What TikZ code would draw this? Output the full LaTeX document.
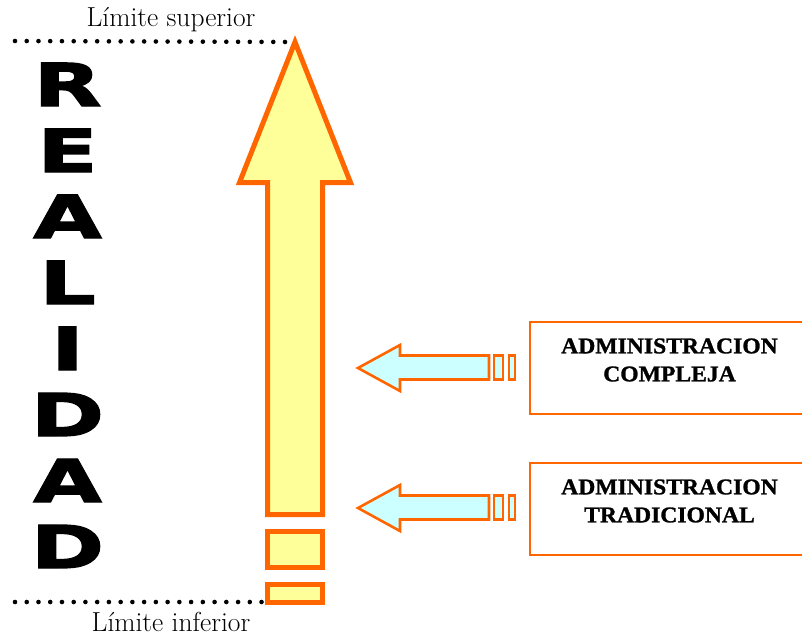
\documentclass[tikz,border=0pt]{standalone}
\usepackage{fontspec}
\newfontfamily\realfont{DejaVu Sans Bold}[FakeBold=2.5,FakeStretch=1.5]
\newfontfamily\boxfont{Liberation Serif}[FakeStretch=1.05,FakeBold=1.2]
\definecolor{arrowline}{HTML}{FF6600}
\definecolor{arrowfill}{HTML}{FFFF99}
\definecolor{sidefill}{HTML}{CCFFFF}
\begin{document}
\begin{tikzpicture}[x=1pt,y=-1pt,
  bigarrow/.style={draw=arrowline,fill=arrowfill,line width=5pt,miter limit=20},
  sidearrow/.style={draw=arrowline,fill=sidefill,line width=2.6pt,miter limit=20},
  stripe/.style={draw=arrowline,fill=sidefill,line width=2.4pt},
  limitline/.style={line width=4.6pt,line cap=round,dash pattern=on 0pt off 11.74pt},
  limittext/.style={font=\fontsize{27.5}{30}\selectfont,inner sep=0pt,anchor=base},
  letter/.style={font=\realfont\fontsize{59}{60}\selectfont,anchor=base,inner sep=0pt},
  conceptbox/.style={draw=arrowline,line width=2pt,minimum width=275pt,minimum height=92pt,inner sep=0pt},
  concepttext/.style={font=\boxfont\bfseries\fontsize{22.5}{28}\selectfont,align=center,inner sep=0pt}]
\useasboundingbox (0,0) rectangle (802,637);

% main rising arrow
\coordinate (tip) at (295,42);
\draw[bigarrow] (tip) -- (350.5,182.5) -- (322.5,182.5) -- (322.5,514.5)
  -- (267.5,514.5) -- (267.5,182.5) -- (239.5,182.5) -- cycle;
\draw[bigarrow] (267.5,531.5) rectangle (322.5,567.5);
\draw[bigarrow] (267.5,584.5) rectangle (322.5,602.5);
\coordinate (lowend) at (267,602);

% upper and lower limits
\coordinate (topstart) at (15,41);
\coordinate (botstart) at (15,602);
\draw[limitline] (topstart) -- (tip);
\draw[limitline] (botstart) -- (lowend);
\node[limittext] (sup) at (171,27) {Límite superior};
\node[limittext] (inf) at (171,631) {Límite inferior};

% vertical word
\foreach \ch [count=\i from 0] in {R,E,A,L,I,D,A,D}
  \node[letter] (letter\i) at (67.5,106+66*\i) {\ch};

% side arrows pointing to the main arrow
\foreach \dy/\nm in {0/upper,140/lower}{
  \begin{scope}[yshift=-\dy pt]
    \draw[sidearrow] (358,368) -- (400,345) -- (400,355.5) -- (489,355.5)
      -- (489,379.5) -- (400,379.5) -- (400,391) -- cycle;
    \draw[stripe] (494,355.5) rectangle (503,379.5);
    \draw[stripe] (509,355.5) rectangle (515,379.5);
  \end{scope}
}

% concept boxes
\node[conceptbox] (compleja) at (667.5,368) {};
\node[concepttext] (complejatxt) at (669.5,360) {ADMINISTRACION\\COMPLEJA};
\node[conceptbox] (tradicional) at (667.5,509) {};
\node[concepttext] (tradicionaltxt) at (669.5,501) {ADMINISTRACION\\TRADICIONAL};
\end{tikzpicture}
\end{document}
